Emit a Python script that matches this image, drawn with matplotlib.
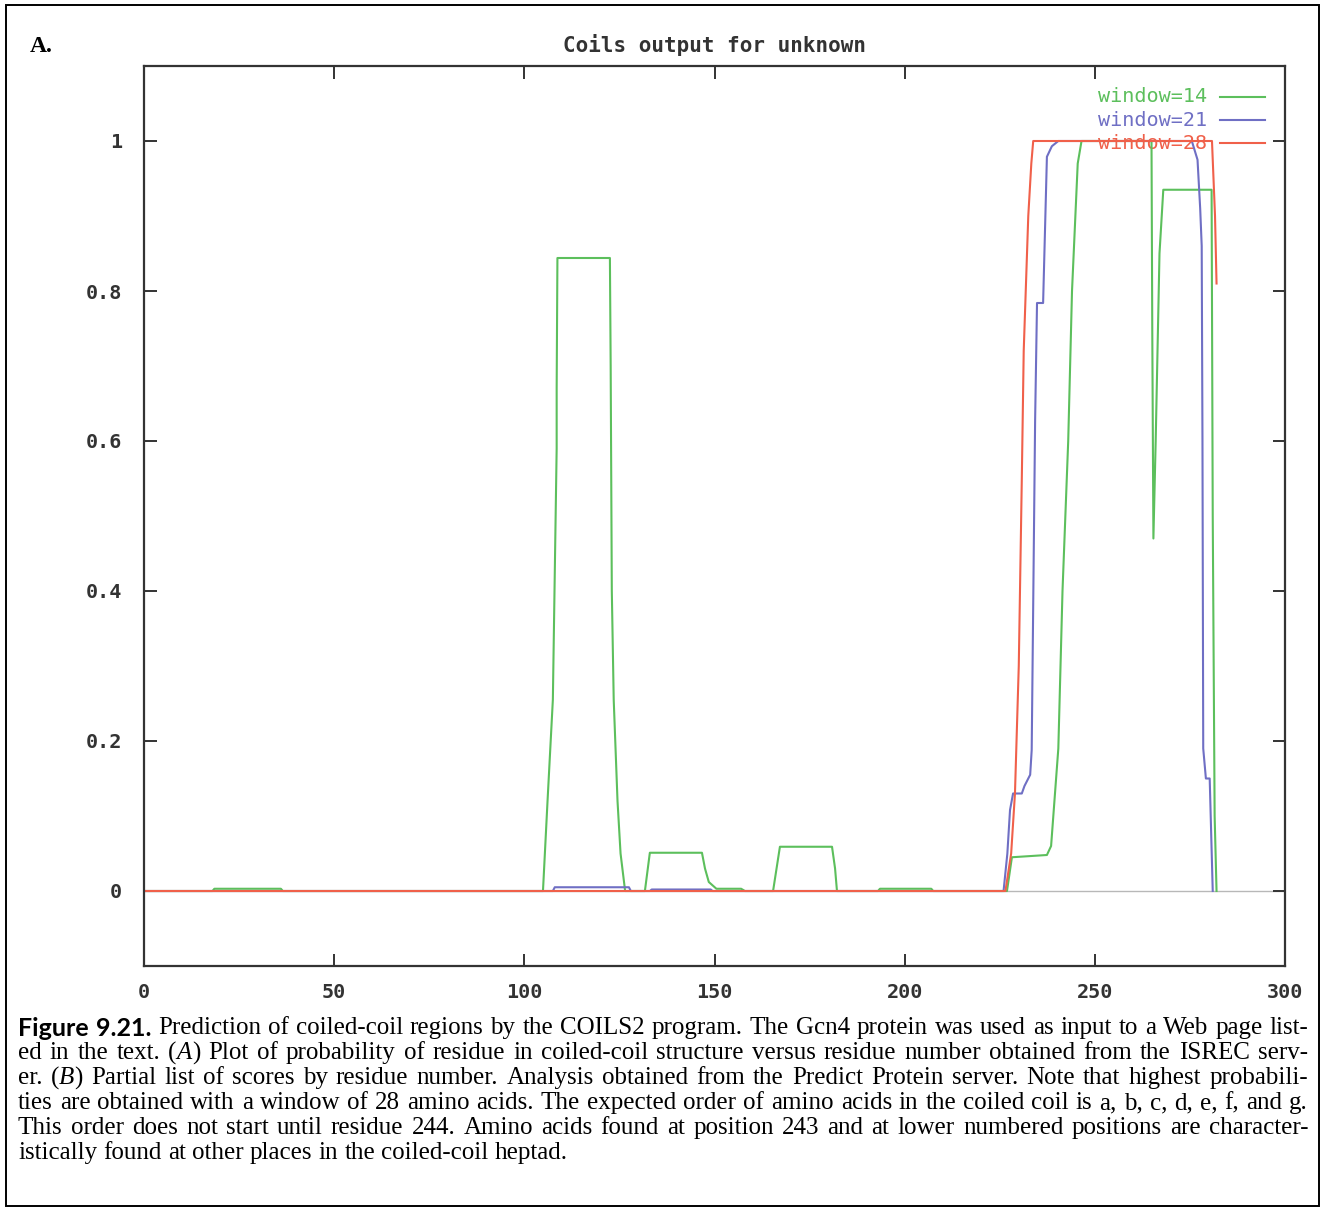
import matplotlib.pyplot as plt
from matplotlib.lines import Line2D
from matplotlib.patches import Rectangle

# ---- data ----
x_ticks = [0, 50, 100, 150, 200, 250, 300]
x_tick_labels = ["0", "50", "100", "150", "200", "250", "300"]
y_ticks = [0, 0.2, 0.4, 0.6, 0.8, 1.0]
y_tick_labels = ["0", "0.2", "0.4", "0.6", "0.8", "1"]

series_names = ["window=14", "window=21", "window=28"]
series_colors = ["#5cbf5c", "#6f6fc4", "#f0604a"]

green_x = [0, 18, 18.5, 36, 36.5, 104.9, 106.1, 107.5, 108.5, 108.5, 108.7, 122.5, 122.7,
           123.0, 123.5, 124.5, 125.3, 126.5, 131.7, 133.0, 146.7, 147.5, 148.5, 150.5,
           157, 158, 165.4, 167.2, 180.9, 181.7, 182.2, 193, 193.5, 207, 207.5, 226.9,
           228.2, 237.4, 238.5, 240.4, 241.5, 243.0, 244.0, 245.5, 246.5, 264.9, 265.1,
           265.4, 266.0, 267.0, 268.0, 280.7, 281.0, 281.5, 282.0]
green_y = [0, 0, 0.003, 0.003, 0, 0, 0.12, 0.255, 0.59, 0.67, 0.844, 0.844, 0.70,
           0.40, 0.255, 0.12, 0.05, 0, 0, 0.051, 0.051, 0.03, 0.012, 0.003,
           0.003, 0, 0, 0.059, 0.059, 0.03, 0, 0, 0.003, 0.003, 0, 0,
           0.045, 0.048, 0.06, 0.19, 0.40, 0.60, 0.80, 0.97, 1.0, 1.0, 0.75,
           0.47, 0.60, 0.85, 0.935, 0.935, 0.50, 0.10, 0]

blue_x = [0, 107.5, 108, 127.5, 128, 133, 133.5, 149, 149.5, 226.0, 227.0, 227.7, 228.5,
          230.8, 231.5, 233.0, 233.4, 234.3, 234.8, 236.4, 237.4, 238.7, 240.4, 275.5,
          277.0, 277.7, 278.1, 278.3, 278.5, 279.2, 280.2, 281.0]
blue_y = [0, 0, 0.005, 0.005, 0, 0, 0.002, 0.002, 0, 0, 0.05, 0.108, 0.13,
          0.13, 0.14, 0.155, 0.188, 0.628, 0.784, 0.784, 0.979, 0.993, 1.0, 1.0,
          0.975, 0.91, 0.86, 0.60, 0.19, 0.15, 0.15, 0]

red_x = [0, 226.5, 228, 229, 230, 230.8, 231.3, 232.5, 233.3, 233.8, 280.8, 281.2, 281.6, 282]
red_y = [0, 0, 0.05, 0.13, 0.30, 0.55, 0.72, 0.90, 0.97, 1.0, 1.0, 0.95, 0.90, 0.81]

title = "Coils output for unknown"
panel = "A."
caption_lines = [
    "Figure 9.21. Prediction of coiled-coil regions by the COILS2 program. The Gcn4 protein was used as input to a Web page list-",
    "ed in the text. (A) Plot of probability of residue in coiled-coil structure versus residue number obtained from the ISREC serv-",
    "er. (B) Partial list of scores by residue number. Analysis obtained from the Predict Protein server. Note that highest probabili-",
    "ties are obtained with a window of 28 amino acids. The expected order of amino acids in the coiled coil is a, b, c, d, e, f, and g.",
    "This order does not start until residue 244. Amino acids found at position 243 and at lower numbered positions are character-",
    "istically found at other places in the coiled-coil heptad.",
]
special = {
    "Figure": [("Figure", "b")],
    "9.21.": [("9.21.", "b")],
    "(A)": [("(", "r"), ("A", "i"), (")", "r")],
    "(B)": [("(", "r"), ("B", "i"), (")", "r")],
}

W, H = 1326, 1212
mono = "DejaVu Sans Mono"
dark = "#333333"

fig = plt.figure(figsize=(W / 100, H / 100), dpi=100)
ax = fig.add_axes([144 / W, 246 / H, 1141 / W, 900 / H])

ax.axhline(0, color="#b8b8b8", lw=1, zorder=1)
for xs, ys, c in zip([green_x, blue_x, red_x], [green_y, blue_y, red_y], series_colors):
    ax.plot(xs, ys, color=c, lw=1.5, zorder=2)

ax.set_xlim(0, 300)
ax.set_ylim(-0.1, 1.1)
ax.set_xticks(x_ticks)
ax.set_xticklabels(x_tick_labels)
ax.set_yticks(y_ticks)
ax.set_yticklabels(y_tick_labels)
ax.tick_params(axis="both", direction="in", length=9, width=1.4, color=dark,
               top=True, right=True, labelsize=14.5, labelcolor=dark)
ax.tick_params(axis="x", pad=12)
ax.tick_params(axis="y", pad=16)
for lab in ax.get_xticklabels() + ax.get_yticklabels():
    lab.set_fontfamily(mono)
    lab.set_fontweight("bold")
for s in ax.spines.values():
    s.set_color(dark)
    s.set_linewidth(1.6)

ax.set_title(title, family=mono, weight="bold", size=15, color=dark, pad=10)

# legend in gnuplot style: text right aligned, sample line after it
leg_y = [0.9656, 0.940, 0.9144]
for name, c, yy in zip(series_names, series_colors, leg_y):
    ax.text(0.9316, yy, name, transform=ax.transAxes, ha="right", va="center",
            family=mono, size=14.5, color=c, zorder=1)
    ax.add_line(Line2D([0.943, 0.9825], [yy, yy], transform=ax.transAxes, color=c, lw=1.5))

fig.text(30 / W, 1 - 47 / H, panel, family="Liberation Serif", weight="bold", size=17,
         ha="left", va="center")

# outer frame
fig.add_artist(Rectangle((6 / W, 1 - 1206 / H), 1313 / W, 1201 / H, transform=fig.transFigure,
                         fill=False, ec="black", lw=1.4))

# caption, justified word by word
renderer = fig.canvas.get_renderer()
fs = 18
styles = {
    "r": dict(family="Liberation Serif", size=fs),
    "i": dict(family="Liberation Serif", size=fs, style="italic"),
    "b": dict(family="Lato", size=fs, weight="bold"),
}
space = fig.text(0, 0, "a a", **styles["r"])
nosp = fig.text(0, 0, "aa", **styles["r"])
space_w = space.get_window_extent(renderer).width - nosp.get_window_extent(renderer).width
space.remove()
nosp.remove()

x_left, x_right = 18, 1308
y0, dy = 1028, 25
for i, line in enumerate(caption_lines):
    ypx = y0 + i * dy
    words = []
    for w in line.split(" "):
        parts = []
        for txt, st in special.get(w, [(w, "r")]):
            t = fig.text(0, 1 - ypx / H, txt, va="center", ha="left", **styles[st])
            parts.append((t, t.get_window_extent(renderer).width))
        words.append(parts)
    widths = [sum(p[1] for p in wp) for wp in words]
    last = i == len(caption_lines) - 1
    gap = space_w if last else (x_right - x_left - sum(widths)) / (len(words) - 1)
    x = x_left
    for wp, ww in zip(words, widths):
        xx = x
        for t, pw in wp:
            t.set_x(xx / W)
            xx += pw
        x += ww + gap

fig.savefig("out.png", dpi=100)
